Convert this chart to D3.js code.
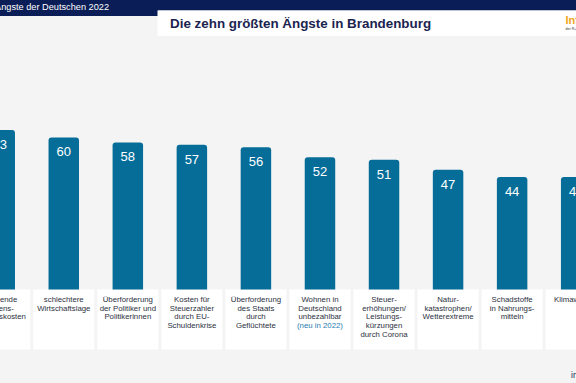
<!DOCTYPE html>
<html>
<head>
<meta charset="utf-8">
<script src="https://cdn.jsdelivr.net/npm/d3@7"></script>
<style>
  html, body { margin: 0; padding: 0; background: #f4f4f4; overflow: hidden; }
  svg { display: block; font-family: Arial, "Liberation Sans", sans-serif; }
</style>
</head>
<body>
<svg id="chart" width="576" height="383"></svg>
<script>
// ---- data ----
const categories = [
  "Steigende Lebenshaltungskosten",
  "schlechtere Wirtschaftslage",
  "Überforderung der Politiker und Politikerinnen",
  "Kosten für Steuerzahler durch EU-Schuldenkrise",
  "Überforderung des Staats durch Geflüchtete",
  "Wohnen in Deutschland unbezahlbar",
  "Steuererhöhungen/Leistungskürzungen durch Corona",
  "Naturkatastrophen/Wetterextreme",
  "Schadstoffe in Nahrungsmitteln",
  "Klimawandel"
];
const labelLines = [
  ["Steigende", "Lebens-", "haltungskosten"],
  ["schlechtere", "Wirtschaftslage"],
  ["Überforderung", "der Politiker und", "Politikerinnen"],
  ["Kosten für", "Steuerzahler", "durch EU-", "Schuldenkrise"],
  ["Überforderung", "des Staats", "durch", "Geflüchtete"],
  ["Wohnen in", "Deutschland", "unbezahlbar", "(neu in 2022)"],
  ["Steuer-", "erhöhungen/", "Leistungs-", "kürzungen", "durch Corona"],
  ["Natur-", "katastrophen/", "Wetterextreme"],
  ["Schadstoffe", "in Nahrungs-", "mitteln"],
  ["Klimawandel"]
];
const values = [63, 60, 58, 57, 56, 52, 51, 47, 44, 44];
const highlightLine = "(neu in 2022)";
const headerText = "Die Ängste der Deutschen 2022";
const titleText = "Die zehn größten Ängste in Brandenburg";
const unitText = "in Prozent";

// ---- layout ----
const svg = d3.select("#chart");
const navy = "#0b1d56";
const barColor = "#056d98";

// header bands
svg.append("rect").attr("x", 0).attr("y", 0).attr("width", 576).attr("height", 10.5).attr("fill", navy);
svg.append("rect").attr("x", 0).attr("y", 0).attr("width", 158).attr("height", 16).attr("fill", navy);
svg.append("rect").attr("x", 157.5).attr("y", 10.5).attr("width", 420).attr("height", 25.5).attr("fill", "#ffffff");

svg.append("text").attr("x", 109).attr("y", 9.6).attr("text-anchor", "end")
  .attr("font-size", 9.2).attr("fill", "#ffffff").text(headerText);
svg.append("text").attr("x", 170).attr("y", 28.3)
  .attr("font-size", 13.4).attr("font-weight", "bold").attr("fill", "#1b2450").text(titleText);

// logo fragment
svg.append("text").attr("x", 565.5).attr("y", 24).attr("font-size", 11).attr("font-weight", "bold")
  .attr("fill", "#f2a51c").text("Infocenter");
svg.append("text").attr("x", 565.5).attr("y", 29.5).attr("font-size", 3.6)
  .attr("fill", "#333").text("der R+V Versicherung");

// scales
const x = d3.scaleBand().domain(categories).range([-32.3, 608.2]).paddingInner(0.524).paddingOuter(0.262);
const y = d3.scaleLinear().domain([-1.4, 63]).range([289.5, 130]);
const base = y.range()[0];
const r = 3;

const g = svg.append("g");

// label boxes
g.selectAll("rect.lbox").data(categories).join("rect")
  .attr("class", "lbox")
  .attr("x", d => x(d) + x.bandwidth() / 2 - (x.step() - 3) / 2)
  .attr("y", base)
  .attr("width", x.step() - 3)
  .attr("height", 60)
  .attr("fill", "#ffffff");

// bars with rounded top corners
g.selectAll("path.bar").data(categories).join("path")
  .attr("class", "bar")
  .attr("fill", barColor)
  .attr("d", (d, i) => {
    const x0 = x(d), w = x.bandwidth(), t = y(values[i]);
    return `M${x0},${base}V${t + r}Q${x0},${t} ${x0 + r},${t}H${x0 + w - r}Q${x0 + w},${t} ${x0 + w},${t + r}V${base}Z`;
  });

// value labels
g.selectAll("text.val").data(categories).join("text")
  .attr("class", "val")
  .attr("x", d => x(d) + x.bandwidth() / 2)
  .attr("y", (d, i) => y(values[i]) + 19)
  .attr("text-anchor", "middle")
  .attr("font-size", 13)
  .attr("fill", "#ffffff")
  .text((d, i) => values[i]);

// category labels
categories.forEach((c, i) => {
  const t = g.append("text")
    .attr("x", x(c) + x.bandwidth() / 2)
    .attr("y", base + 12.3)
    .attr("text-anchor", "middle")
    .attr("font-size", 7.8)
    .attr("fill", "#2b3040");
  labelLines[i].forEach((line, j) => {
    t.append("tspan")
      .attr("x", x(c) + x.bandwidth() / 2)
      .attr("dy", j === 0 ? 0 : 8.8)
      .attr("fill", line === highlightLine ? "#1f7bb0" : null)
      .text(line);
  });
});

// unit note
svg.append("text").attr("x", 571).attr("y", 377.5).attr("font-size", 8.5)
  .attr("fill", "#1b2450").text(unitText);
</script>
</body>
</html>
